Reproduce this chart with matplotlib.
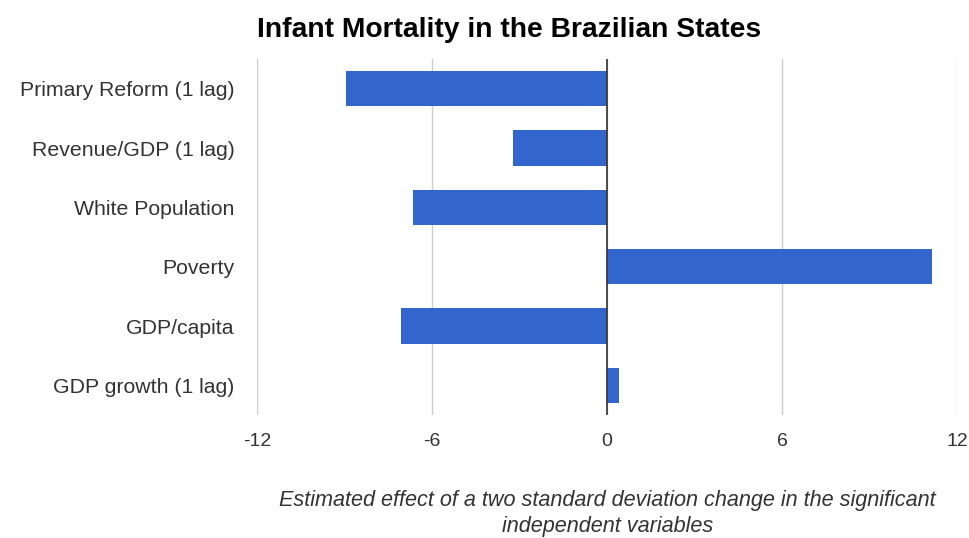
import matplotlib
matplotlib.use("Agg")
import matplotlib.pyplot as plt

plt.rcParams['font.family'] = ['Liberation Sans', 'DejaVu Sans']

categories = ["Primary Reform (1 lag)", "Revenue/GDP (1 lag)", "White Population",
              "Poverty", "GDP/capita", "GDP growth (1 lag)"]
values = [-8.96, -3.24, -6.65, 11.15, -7.08, 0.42]
xticks = [-12, -6, 0, 6, 12]

fig = plt.figure(figsize=(9.7, 5.38), dpi=100)
ax = fig.add_axes([0.265, 0.2286, 0.7216, 0.6617])

ypos = list(range(len(categories)))
ax.barh(ypos, values, height=0.6, color="#3366CC", zorder=3)
ax.set_ylim(len(categories) - 0.5, -0.5)
ax.set_xlim(-12, 12)
ax.set_xticks(xticks)
ax.set_xticklabels([str(t) for t in xticks])
ax.set_yticks(ypos)
ax.set_yticklabels(categories)
ax.tick_params(axis='both', length=0, colors="#333333")
ax.tick_params(axis='x', pad=13, labelsize=14)
ax.tick_params(axis='y', pad=16, labelsize=15.3)
for s in ax.spines.values():
    s.set_visible(False)
ax.grid(axis='x', color="#CCCCCC", linewidth=1, zorder=0)
ax.axvline(0, color="#333333", linewidth=1.2, zorder=4)

fig.text(0.265, 0.945, "Infant Mortality in the Brazilian States",
         fontsize=20.3, fontweight='bold', ha='left', va='center', color="#000000")
fig.text(0.626, 0.046, "Estimated effect of a two standard deviation change in the significant\nindependent variables",
         fontsize=15.6, style='italic', ha='center', va='center', color="#333333", linespacing=1.3)

fig.savefig("out.png", dpi=100)
